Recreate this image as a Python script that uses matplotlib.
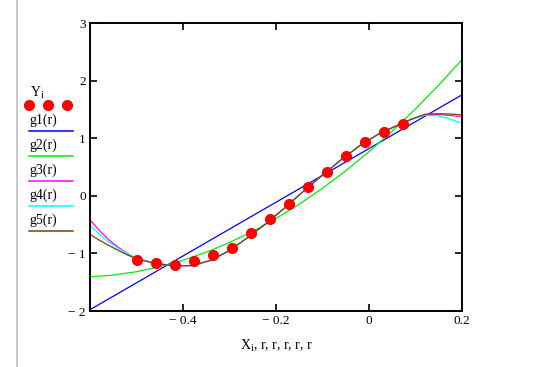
import numpy as np
import matplotlib
matplotlib.use("Agg")
import matplotlib.pyplot as plt

plt.rcParams['font.family'] = ['Liberation Serif', 'DejaVu Serif']
plt.rcParams['mathtext.fontset'] = 'custom'
plt.rcParams['mathtext.rm'] = 'Liberation Serif'
plt.rcParams['mathtext.it'] = 'Liberation Serif'

# data points (X_i, Y_i)
X = np.array([-0.498, -0.457, -0.4165, -0.376, -0.3355, -0.2946, -0.253, -0.2122,
              -0.172, -0.131, -0.091, -0.050, -0.009, 0.0315, 0.0738])
Y = np.array([-1.118, -1.159, -1.194, -1.136, -1.020, -0.898, -0.654, -0.411,
              -0.144, 0.146, 0.419, 0.686, 0.929, 1.109, 1.254])

# fitted curves g1..g5 at sample r values
r1 = [-0.6, 0.2]
g1 = [-1.977, 1.753]

r2 = [-0.6, -0.55, -0.5, -0.45, -0.4, -0.35, -0.3, -0.25, -0.2, -0.15,
      -0.1, -0.05, 0.0, 0.05, 0.1, 0.15, 0.2]
g2 = [-1.408, -1.377, -1.318, -1.232, -1.120, -0.979, -0.812, -0.617, -0.395,
      -0.146, 0.131, 0.434, 0.766, 1.124, 1.509, 1.922, 2.362]

r3 = [-0.6, -0.58, -0.56, -0.54, -0.52, -0.5, -0.46, -0.42, -0.38, -0.34,
      -0.30, -0.26, -0.22, -0.18, -0.14, -0.10, -0.06, -0.02, 0.02, 0.06,
      0.09, 0.12, 0.15, 0.175, 0.2]
g_mid = [-1.172, -1.215, -1.212, -1.12, -0.95, -0.72, -0.475, -0.20, 0.085,
         0.36, 0.625, 0.87, 1.07, 1.22, 1.325, 1.41]
g3 = [-0.42, -0.60, -0.76, -0.89, -1.00, -1.09] + g_mid + [1.412, 1.395, 1.375]
g4 = [-0.51, -0.665, -0.80, -0.91, -1.005, -1.09] + g_mid[:-1] + [1.40, 1.385, 1.33, 1.26]
g5 = [-0.67, -0.77, -0.86, -0.945, -1.025, -1.095] + g_mid[:-1] + [1.415, 1.425, 1.42, 1.405]

curves = [(r1, g1), (r2, g2), (r3, g3), (r3, g4), (r3, g5)]
names = ['g1(r)', 'g2(r)', 'g3(r)', 'g4(r)', 'g5(r)']
colors = ['#0000ff', '#00ee00', '#ff00ff', '#00ffff', '#804000']

x_ticks = [-0.4, -0.2, 0, 0.2]
x_labels = ['\u2212 0.4', '\u2212 0.2', '0', '0.2']
y_ticks = [-2, -1, 0, 1, 2, 3]
y_labels = ['\u2212 2', '\u2212 1', '0', '1', '2', '3']

W, H = 533, 367
fig = plt.figure(figsize=(W / 100, H / 100), dpi=100)
ax = fig.add_axes([90 / W, 1 - 311 / H, 372 / W, 288 / H])

for (rr, gg), c in zip(curves, colors):
    ax.plot(rr, gg, color=c, lw=0.9)
ax.plot(X, Y, 'o', color='#ff0000', ms=7, zorder=5)

ax.set_xlim(-0.6, 0.2)
ax.set_ylim(-2, 3)
ax.set_xticks(x_ticks)
ax.set_xticklabels(x_labels)
ax.set_yticks(y_ticks)
ax.set_yticklabels(y_labels)
ax.tick_params(direction='in', length=5, width=1.2, labelsize=9.5,
               top=True, right=True, pad=3, colors='black')
for s in ax.spines.values():
    s.set_linewidth(1.4)
ax.set_xlabel('X$_{\\mathregular{i}}$, r, r, r, r, r', fontsize=10, labelpad=8)

# legend drawn in pixel coordinates on the left
leg = fig.add_axes([0, 0, 1, 1], facecolor='none')
leg.set_xlim(0, W)
leg.set_ylim(H, 0)
leg.axis('off')
leg.plot([17, 17], [0, H], color='#c0c0c0', lw=1.2)
leg.text(30, 93, 'Y$_{\\mathregular{i}}$', fontsize=10, va='center')
leg.plot([29, 48, 67], [105, 105, 105], 'o', color='#ff0000', ms=7)
for k, (n, c) in enumerate(zip(names, colors)):
    y0 = 120 + 25 * k
    leg.text(29, y0, n, fontsize=10, va='center')
    leg.plot([29, 73], [y0 + 11, y0 + 11], color=c, lw=1.1)

fig.savefig('out.png', dpi=100)
